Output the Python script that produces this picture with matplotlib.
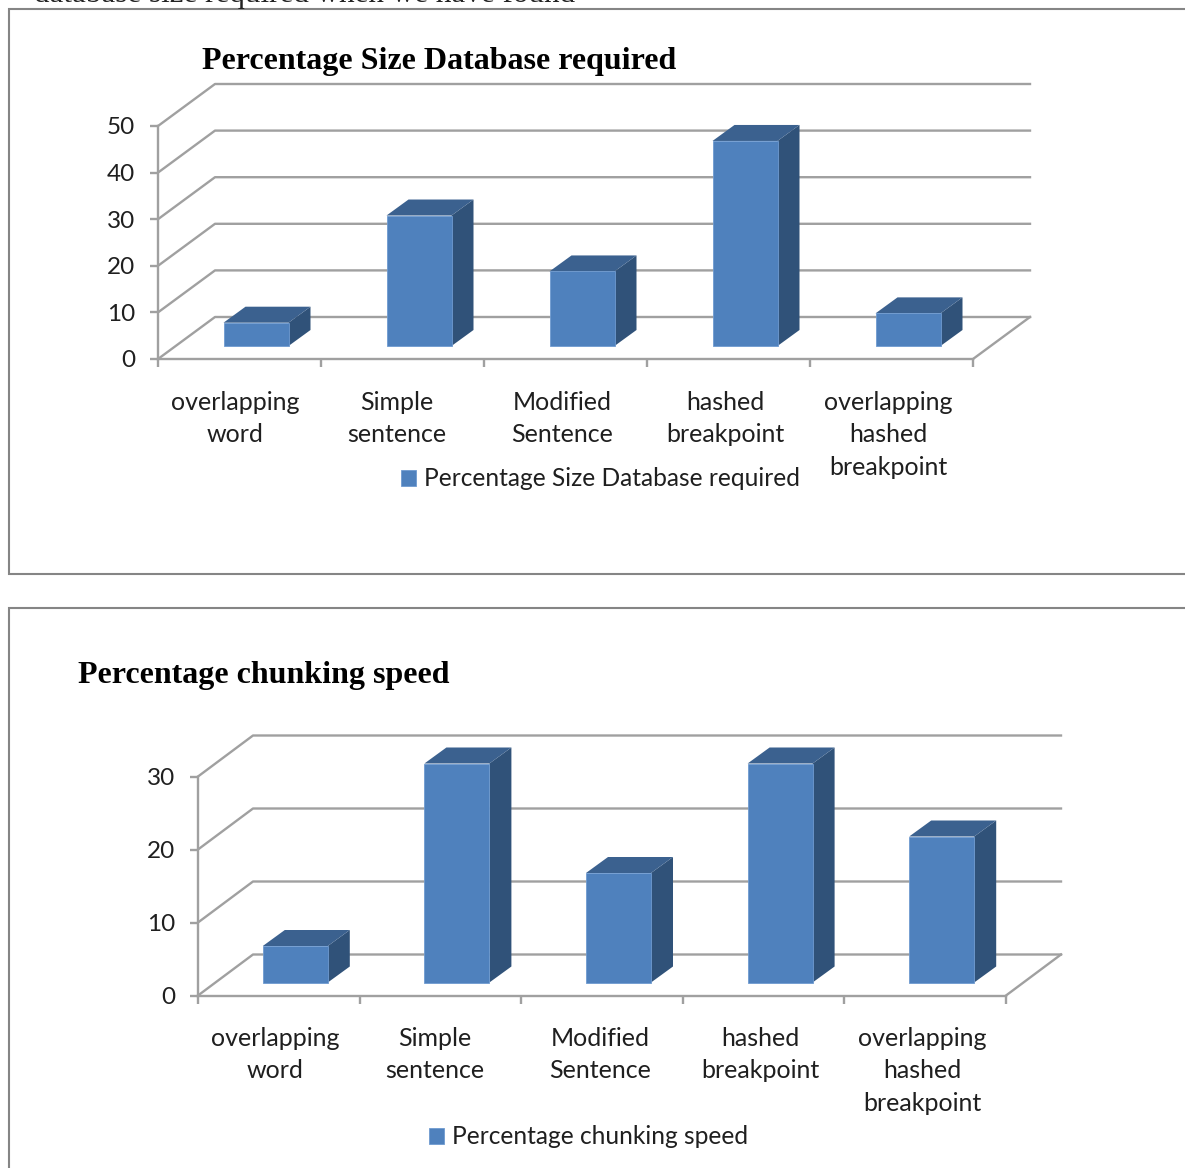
import numpy as np
import matplotlib
matplotlib.use("Agg")
import matplotlib.pyplot as plt
from matplotlib.patches import Polygon, Rectangle

# Chart data
categories_top = ["overlapping\nword", "Simple\nsentence", "Modified\nSentence",
                  "hashed\nbreakpoint", "overlapping\nhashed\nbreakpoint"]
categories_bottom = list(categories_top)
size_values = [5, 28, 16, 44, 7]
speed_values = [5, 30, 15, 30, 20]
size_ticks = [0, 10, 20, 30, 40, 50]
speed_ticks = [0, 10, 20, 30]
size_title = "Percentage Size Database required"
speed_title = "Percentage chunking speed"

W, H = 1185, 1168
FRONT = "#4F81BD"
SIDE = "#305279"
TOP = "#3B618F"
GRID = "#A0A0A0"
TEXT = "#1f1f1f"
SANS = "Lato"
SERIF = "Liberation Serif"

fig = plt.figure(figsize=(W / 100, H / 100), dpi=100, facecolor="white")


def fx(px):
    return px / W


def fy(py):
    return 1 - py / H


def panel(box, values, ticks, cats, title, title_xy, wall_px, label_shift, label_y, legend_xy):
    """Draw a pseudo-3D column chart whose front plane spans box = (x0, x1, y_bottom, y_top)."""
    x0, x1, yb, yt = box
    ax = fig.add_axes([fx(x0), fy(yb), fx(x1 - x0), (yb - yt) / H], zorder=2)
    ax.set_xlim(0, len(values))
    ax.set_ylim(ticks[0], ticks[-1])
    ax.patch.set_alpha(0)

    ux = (x1 - x0) / len(values)           # pixels per category
    uy = (yb - yt) / (ticks[-1] - ticks[0])  # pixels per value unit

    def depth(x, y, dpx, dpy):
        return x + dpx / ux, y + dpy / uy

    wx, wy = wall_px
    right = len(values)
    for t in ticks:
        bx, by = depth(0, t, wx, wy)
        ex, _ = depth(right, t, wx, wy)
        ax.plot([0, bx, ex], [t, by, by], color=GRID, lw=1.7, clip_on=False, zorder=1)
    bx, by = depth(right, 0, wx, wy)
    ax.plot([right, bx], [0, by], color=GRID, lw=1.7, clip_on=False, zorder=1)

    # Columns: front face plus side and top faces pushed back into the floor
    sx, sy = 16.5, 13
    dx, dy = 22, 16
    half = 32.5 / ux
    for i, v in enumerate(values):
        c = i + 0.5
        l, b = depth(c - half, 0, sx, sy)
        r, _ = depth(c + half, 0, sx, sy)
        _, t = depth(c, v, sx, sy)
        l2, b2 = depth(l, b, dx, dy)
        r2, t2 = depth(r, t, dx, dy)
        l3, _ = depth(l, t, dx, dy)
        ax.add_patch(Polygon([(r, b), (r2, b2), (r2, t2), (r, t)], closed=True, fc=SIDE,
                             ec="none", clip_on=False, zorder=3))
        ax.add_patch(Polygon([(l, t), (r, t), (r2, t2), (l3, t2)], closed=True, fc=TOP,
                             ec="none", clip_on=False, zorder=3))
        ax.add_patch(Rectangle((l, b), r - l, t - b, fc=FRONT, ec="#6f9bd0", lw=0.6,
                               clip_on=False, zorder=4,
                               label=title if i == 0 else None))

    for s in ("top", "right"):
        ax.spines[s].set_visible(False)
    for s in ("left", "bottom"):
        ax.spines[s].set_color(GRID)
        ax.spines[s].set_linewidth(1.7)
    ax.set_yticks(ticks)
    ax.set_xticks(np.arange(len(values) + 1))
    ax.set_xticklabels([])
    ax.tick_params(axis="both", which="major", color=GRID, width=1.7, length=5.5)
    ax.tick_params(axis="y", labelsize=17.5, labelcolor=TEXT, pad=11)
    for lab in ax.get_yticklabels():
        lab.set_family(SANS)

    for i, cat in enumerate(cats):
        ax.annotate(cat, xy=(i + 0.5 + label_shift[i] / ux, 0), xycoords="data",
                    xytext=(0, -(label_y - yb) * 0.72), textcoords="offset points",
                    ha="center", va="top", fontsize=18, family=SANS, color=TEXT,
                    linespacing=1.5, annotation_clip=False)

    fig.text(fx(title_xy[0]), fy(title_xy[1]), title, family=SERIF, weight="bold",
             fontsize=23, color="black", ha="left", va="center")

    ax.legend(loc="center left", bbox_to_anchor=(fx(legend_xy[0]), fy(legend_xy[1])),
              bbox_transform=fig.transFigure, frameon=False, borderpad=0, borderaxespad=0,
              handlelength=0.62, handleheight=0.62, handletextpad=0.3,
              prop={"family": SANS, "size": 17.65}, labelcolor=TEXT)
    return ax


# Surrounding chart frames run off the right and bottom page edges
for top_px, bottom_px in [(9, 574), (608, 1300)]:
    fig.add_artist(Rectangle((fx(9), fy(bottom_px)), fx(1300), (bottom_px - top_px) / H,
                             transform=fig.transFigure, fc="white", ec="#858585", lw=1.5,
                             zorder=-1))

# Clipped line of body text above the first frame
fig.text(fx(34), fy(2), "database size required when we have found", family=SERIF,
         fontsize=22.4, color="#222222", ha="left", va="baseline", zorder=3)

panel((158, 973, 359, 126), size_values, size_ticks, categories_top, size_title,
      (202, 62), (57, 42), [-4, -6, -3, -3, -3], 391, (401, 479))
panel((198, 1006, 995.5, 776.5), speed_values, speed_ticks, categories_bottom, speed_title,
      (78, 675), (55, 41), [-4, -6, -2, -3, -3], 1027, (429, 1137))

fig.savefig("out.png", dpi=100)
